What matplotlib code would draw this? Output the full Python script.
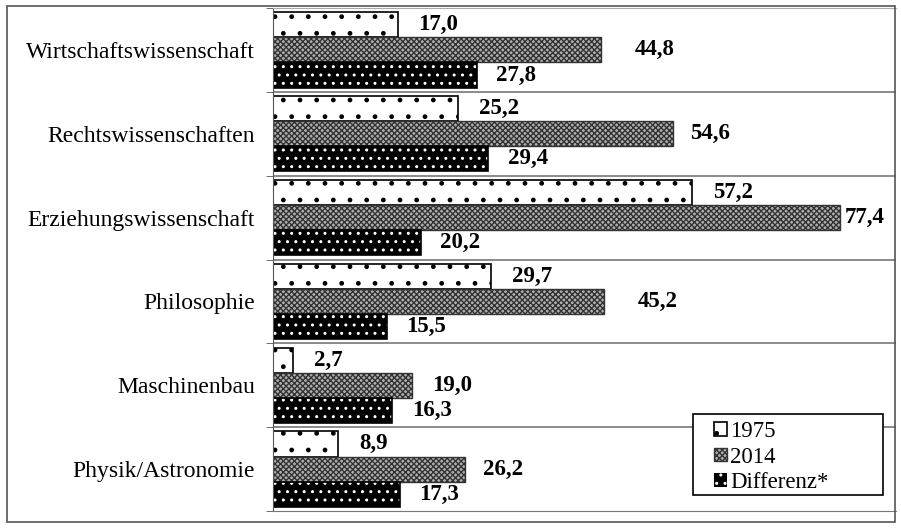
import numpy as np
import matplotlib
matplotlib.use('Agg')
from matplotlib import pyplot as plt
from matplotlib.patches import Rectangle

plt.rcParams['font.family'] = ['Liberation Serif', 'DejaVu Serif']
plt.rcParams['hatch.linewidth'] = 1.0

# data
faecher = ['Wirtschaftswissenschaft', 'Rechtswissenschaften', 'Erziehungswissenschaft',
           'Philosophie', 'Maschinenbau', 'Physik/Astronomie']
werte_1975 = [17.0, 25.2, 57.2, 29.7, 2.7, 8.9]
werte_2014 = [44.8, 54.6, 77.4, 45.2, 19.0, 26.2]
differenz = [27.8, 29.4, 20.2, 15.5, 16.3, 17.3]

# label offsets (points) for the 2014 values, as placed in the original
off_2014 = [24, 12, 3, 24, 14, 13]

fig = plt.figure(figsize=(9.01, 5.29), dpi=100)
# outer frame
fig.patches.append(Rectangle((7/901, 7/529), 888/901, 516/529, transform=fig.transFigure,
                             fill=False, edgecolor='#555555', linewidth=1.2))
ax = fig.add_axes([273/901, 18/529, 623/901, 503/529])

n = len(faecher)
y = np.arange(n)
h = 0.3

def fmt(v):
    return f'{v:.1f}'.replace('.', ',')

# 1975: white with sparse dots
b1 = ax.barh(y - h, werte_1975, height=h, color='white', edgecolor='black', hatch='.',
             linewidth=1.2, label='1975')
# 2014: gray crosshatch
b2 = ax.barh(y, werte_2014, height=h, color='#b0b0b0', edgecolor='#333333', hatch='xxxxxx',
             linewidth=1.0, label='2014')
# Differenz: black with white dots
b3 = ax.barh(y + h, differenz, height=h, color='black', edgecolor='white', hatch='..',
             linewidth=0, label='Differenz*')
for r in b3:
    ax.add_patch(Rectangle(r.get_xy(), r.get_width(), r.get_height(), fill=False,
                           edgecolor='black', linewidth=1.2))

for r, v in zip(b1, werte_1975):
    ax.annotate(fmt(v), (r.get_width(), r.get_y() + r.get_height() / 2),
                xytext=(15, 0), textcoords='offset points', ha='left', va='center',
                fontsize=16.5, fontweight='bold')
for r, v, o in zip(b2, werte_2014, off_2014):
    ax.annotate(fmt(v), (r.get_width(), r.get_y() + r.get_height() / 2),
                xytext=(o, 0), textcoords='offset points', ha='left', va='center',
                fontsize=16.5, fontweight='bold')
for r, v in zip(b3, differenz):
    ax.annotate(fmt(v), (r.get_width(), r.get_y() + r.get_height() / 2),
                xytext=(14, 0), textcoords='offset points', ha='left', va='center',
                fontsize=16.5, fontweight='bold')

ax.set_xlim(0, 85)
ax.set_ylim(n - 0.5, -0.5)
ax.set_yticks(y)
ax.set_yticklabels(faecher, fontsize=17)
ax.tick_params(axis='y', length=0, pad=13)
ax.set_yticks(np.arange(n + 1) - 0.5, minor=True)
ax.tick_params(axis='y', which='minor', length=5, direction='out', color='#555555')
ax.set_xticks([])
for yy in np.arange(1, n) - 0.5:
    ax.axhline(yy, color='#777777', linewidth=1.2, zorder=0)
ax.spines['right'].set_visible(False)
ax.spines['bottom'].set_color('#777777')
ax.spines['left'].set_color('#555555')
ax.spines['top'].set_color('#aaaaaa')

# legend with a wide frame drawn separately
ax.add_patch(Rectangle((693/901, 34/529), 190/901, 81/529, transform=fig.transFigure,
                       facecolor='white', edgecolor='black', linewidth=1.2, zorder=5))
leg = ax.legend(loc='upper left', bbox_to_anchor=(714/901, 1 - 421/529),
                bbox_transform=fig.transFigure, fontsize=16.5, frameon=False,
                handlelength=0.55, handleheight=0.55, handletextpad=0.15, borderpad=0,
                labelspacing=0.2, borderaxespad=0)
leg.set_zorder(6)

fig.savefig('out.png', dpi=100)
